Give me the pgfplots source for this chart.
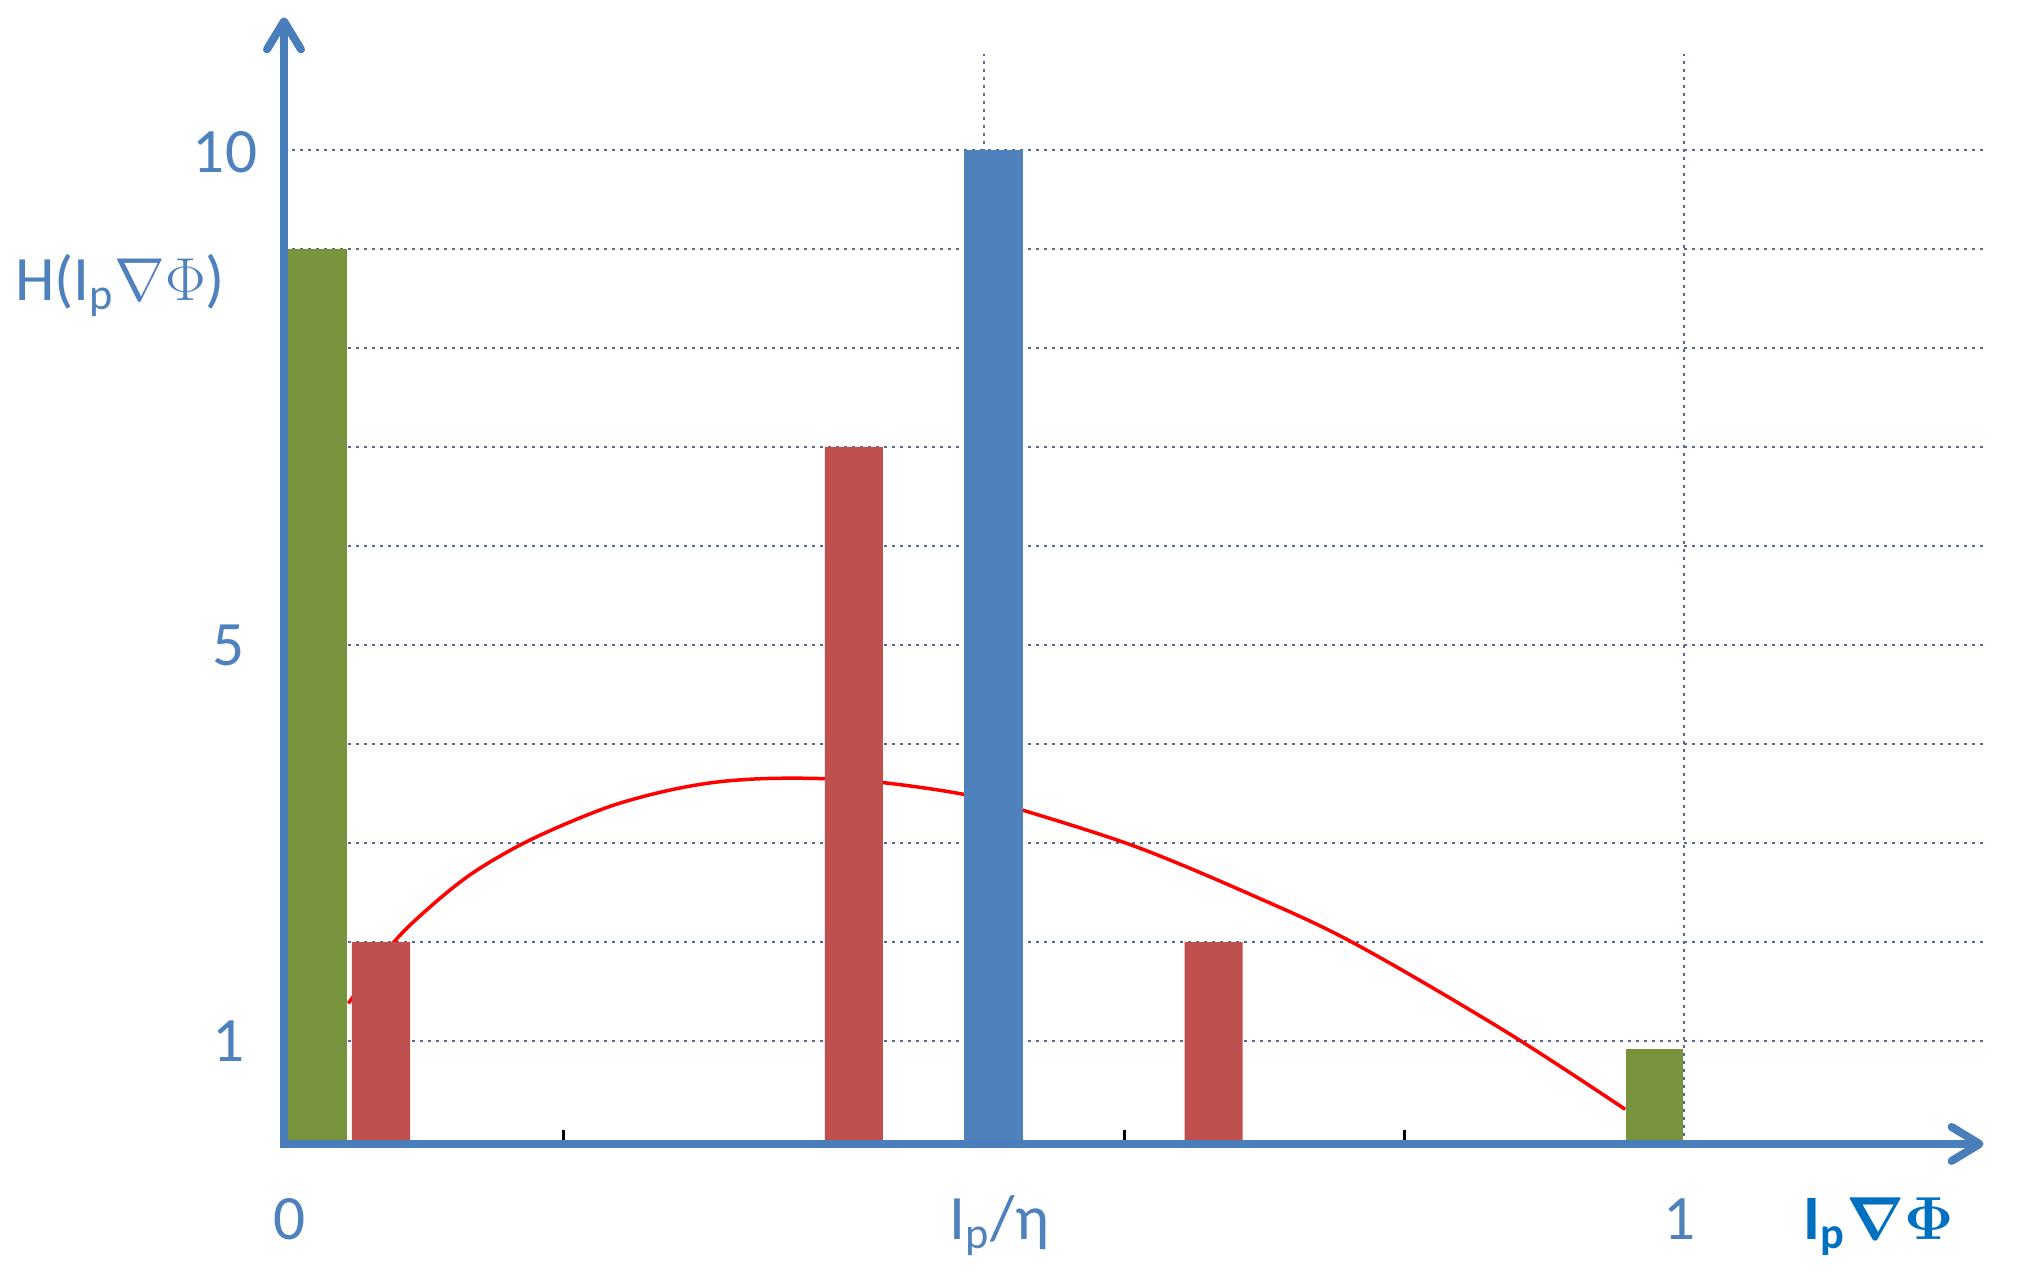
\documentclass[border=0pt]{standalone}
\usepackage{fontspec}
\setmainfont{Carlito}
\usepackage{pgfplots}
\pgfplotsset{compat=1.18}
\usetikzlibrary{arrows.meta}

\definecolor{axblue}{RGB}{74,126,187}
\definecolor{txtblue}{RGB}{79,129,189}
\definecolor{boldblue}{RGB}{0,112,192}
\definecolor{barred}{RGB}{192,80,77}
\definecolor{bargreen}{RGB}{119,147,60}
\definecolor{barblue}{RGB}{79,129,189}
\definecolor{gridc}{RGB}{88,104,146}

\tikzset{
  gridline/.style={gridc, line width=0.25mm, dash pattern=on 0.3mm off 0.5mm},
  axarrow/.style={axblue, line width=0.8mm, -{Straight Barb[length=2.8mm,width=3.4mm,round]}},
}

\begin{document}
\begin{tikzpicture}
\begin{axis}[
  x=140mm, y=9.9mm,
  xmin=0, xmax=1.214, ymin=-0.04, ymax=11.34,
  axis line style={draw=none},
  xtick={0.2,0.4,0.6,0.8}, xticklabels={}, xtick pos=bottom,
  ytick=\empty,
  tick align=inside, major tick length=1.4mm,
  tick style={black, line width=0.3mm},
  clip=false,
  font=\fontsize{18}{21}\selectfont,
]
  % grid
  \pgfplotsinvokeforeach{1,...,10}{\draw[gridline] (axis cs:0,#1) -- (axis cs:1.214,#1);}
  \draw[gridline] (axis cs:0.5,-0.04) -- (axis cs:0.5,10.97);
  \draw[gridline] (axis cs:1,-0.04) -- (axis cs:1,10.97);

  % curve
  \addplot[red, line width=0.35mm, smooth, tension=0.55] coordinates {
    (0.046,1.38) (0.078,1.99) (0.104,2.35) (0.133,2.68) (0.166,2.96)
    (0.199,3.18) (0.235,3.38) (0.271,3.52) (0.306,3.61) (0.342,3.65)
    (0.385,3.65) (0.428,3.61) (0.486,3.49) (0.528,3.33) (0.609,2.96)
    (0.692,2.47) (0.764,1.99) (0.871,1.11) (0.958,0.31)};

  % bars
  \addplot[ybar, bar shift=0pt, bar width=0.045, fill=bargreen, draw=none] coordinates {(0.0225,9)};
  \addplot[ybar, bar shift=0pt, bar width=0.041, fill=bargreen, draw=none] coordinates {(0.979,0.92)};
  \addplot[ybar, bar shift=0pt, bar width=0.0415, fill=barred, draw=none] coordinates {(0.0693,2) (0.407,7) (0.664,2)};
  \addplot[ybar, bar shift=0pt, bar width=0.042, fill=barblue, draw=none] coordinates {(0.507,10)};

  % axes
  \draw[axarrow] (axis cs:-0.003,-0.04) -- (axis cs:1.214,-0.04);
  \draw[axarrow] (axis cs:0,-0.08) -- (axis cs:0,11.34);

  % labels
  \node[txtblue] at (axis cs:0,9.98) [xshift=-5.9mm] {10};
  \node[txtblue] at (axis cs:0,5) [xshift=-5.5mm] {5};
  \node[txtblue] at (axis cs:0,1) [xshift=-5.5mm] {1};
  \node[txtblue] at (axis cs:0,8.63) [xshift=-16.4mm] {H(I\textsubscript{p}$\nabla\Phi$)};
  \node[txtblue, anchor=base] at (axis cs:0.004,-1.0) {0};
  \node[txtblue, anchor=base] at (axis cs:0.511,-1.0) {I\textsubscript{p}/η};
  \node[txtblue, anchor=base] at (axis cs:0.997,-1.0) {1};
  \node[boldblue, anchor=base] at (axis cs:1.139,-1.0) {\bfseries I\textsubscript{p}{\boldmath$\nabla\Phi$}};

  \coordinate (o) at (axis cs:0,0);
\end{axis}
\path (o) ++(-28.4mm,-14.4mm) rectangle ++(202mm,128.4mm);
\end{tikzpicture}
\end{document}
